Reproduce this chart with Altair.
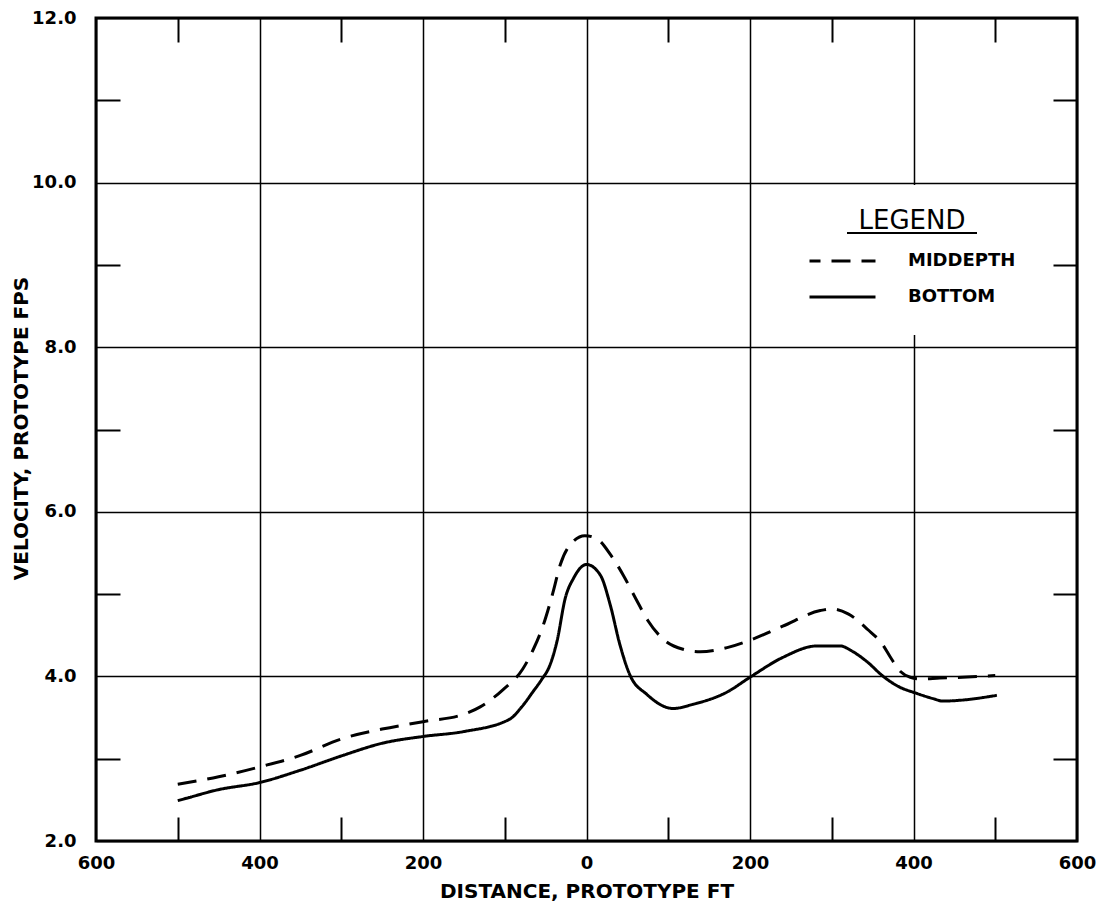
import altair as alt
import pandas as pd

FONT = "DejaVu Sans"

series_names = ["MIDDEPTH", "BOTTOM"]

# distance (prototype ft, negative = left of 0) and velocity (fps)
mid_dist = [-500, -450, -400, -350, -300, -250, -200, -150, -130, -102, -78, -65,
            -53, -41, -32, -20, -2, 13, 30, 45, 60, 75, 93, 118, 139, 172, 200,
            240, 286, 300, 320, 344, 362, 372, 384, 396, 408, 432, 460, 500]
mid_vel = [2.69, 2.78, 2.90, 3.04, 3.24, 3.36, 3.45, 3.54, 3.63, 3.84, 4.09, 4.33,
           4.62, 5.02, 5.36, 5.60, 5.71, 5.67, 5.47, 5.23, 4.95, 4.68, 4.46, 4.33,
           4.30, 4.35, 4.44, 4.61, 4.80, 4.82, 4.76, 4.57, 4.39, 4.23, 4.06, 3.99,
           3.97, 3.98, 3.99, 4.01]

bot_dist = [-500, -489, -452, -400, -350, -298, -249, -200, -150, -94, -80, -65,
            -55, -45, -36, -26, -16, 0, 17, 29, 41, 53, 74, 106, 130, 172, 200, 240,
            282, 310, 326, 343, 363, 383, 402, 424, 436, 457, 502]
bot_vel = [2.49, 2.52, 2.62, 2.71, 2.86, 3.04, 3.19, 3.27, 3.33, 3.48, 3.62, 3.82,
           3.96, 4.13, 4.43, 4.95, 5.19, 5.36, 5.23, 4.87, 4.38, 4.02, 3.78, 3.61,
           3.66, 3.81, 3.99, 4.23, 4.37, 4.37, 4.30, 4.18, 4.00, 3.87, 3.80, 3.73,
           3.70, 3.71, 3.77]

x_major = [-600, -400, -200, 0, 200, 400, 600]
x_minor = [-500, -300, -100, 100, 300, 500]
y_major = [2, 4, 6, 8, 10, 12]
y_minor = [3, 5, 7, 9, 11]

df = pd.concat([
    pd.DataFrame({"dist": mid_dist, "vel": mid_vel, "series": series_names[0]}),
    pd.DataFrame({"dist": bot_dist, "vel": bot_vel, "series": series_names[1]}),
], ignore_index=True)

W, H = 981, 823
xscale = alt.Scale(domain=[-600, 600], nice=False, zero=False)
yscale = alt.Scale(domain=[2, 12], nice=False, zero=False)

x_axis = alt.Axis(
    values=x_major, labelExpr="'' + abs(datum.value)", grid=True, ticks=False,
    tickSize=0, domain=False, labelFont=FONT, labelFontSize=18,
    labelFontWeight="bold", labelPadding=13, labelFlush=False, labelOverlap=False,
    title="DISTANCE, PROTOTYPE FT", titleFont=FONT, titleFontSize=20,
    titleFontWeight="bold", titleX=W / 2, titleY=50, titleBaseline="middle",
    titleAlign="center",
)
y_axis = alt.Axis(
    values=y_major, format=".1f", grid=True, ticks=False, tickSize=0,
    domain=False, labelFont=FONT, labelFontSize=18, labelFontWeight="bold",
    labelPadding=20, labelFlush=False, labelOverlap=False,
    title="VELOCITY, PROTOTYPE FPS", titleFont=FONT, titleFontSize=20,
    titleFontWeight="bold", titleX=-75, titleY=410, titleAngle=270,
    titleBaseline="middle", titleAlign="center",
)


def tick_axis(orient, values):
    return alt.Axis(orient=orient, values=values, offset=-24, tickSize=24,
                    ticks=True, tickWidth=2, tickColor="black", labels=False,
                    grid=False, domain=False, title=None)


lines = alt.Chart(df).mark_line(color="black", strokeWidth=3, interpolate="monotone").encode(
    x=alt.X("dist:Q", scale=xscale, axis=x_axis),
    y=alt.Y("vel:Q", scale=yscale, axis=y_axis),
    strokeDash=alt.StrokeDash(
        "series:N",
        sort=series_names,
        scale=alt.Scale(domain=series_names, range=[[19, 11], [1, 0]]),
        legend=alt.Legend(
            orient="none", legendX=689, legendY=167, title="LEGEND",
            titleFont=FONT, titleFontSize=26, titleFontWeight="normal",
            titleColor="black", titleAnchor="middle", titleAlign="center",
            titlePadding=12, padding=23, symbolSize=4356, symbolStrokeWidth=3,
            symbolStrokeColor="black", symbolType="stroke", symbolOffset=0,
            symbolDashOffset=8,
            labelFont=FONT, labelFontSize=18, labelFontWeight="bold",
            labelColor="black", labelOffset=31, clipHeight=30, rowPadding=6,
        ),
    ),
)

legend_bg = alt.Chart(df).mark_rect(color="white").encode(
    x=alt.value(689), x2=alt.value(944), y=alt.value(167), y2=alt.value(317)
)
underline = alt.Chart(df).mark_rule(color="black", strokeWidth=2).encode(
    x=alt.value(751), x2=alt.value(881), y=alt.value(215)
)

ticks_bl = alt.Chart(df).mark_point(opacity=0).encode(
    x=alt.X("dist:Q", scale=xscale, axis=tick_axis("bottom", x_minor)),
    y=alt.Y("vel:Q", scale=yscale, axis=tick_axis("left", y_minor)),
)
ticks_tr = alt.Chart(df).mark_point(opacity=0).encode(
    x=alt.X("dist:Q", scale=xscale, axis=tick_axis("top", x_minor)),
    y=alt.Y("vel:Q", scale=yscale, axis=tick_axis("right", y_minor)),
)

chart = alt.layer(lines, legend_bg, underline, ticks_bl, ticks_tr).resolve_axis(
    x="independent", y="independent"
).properties(
    width=W, height=H,
    autosize=alt.AutoSizeParams(type="none"),
    padding={"left": 88, "top": 10, "right": 21, "bottom": 66},
).configure_view(
    stroke="black", strokeWidth=3
).configure_axis(
    gridColor="black", gridWidth=1.5, gridOpacity=1,
    labelColor="black", titleColor="black",
)

chart.save("out.html", embed_options={"renderer": "svg", "actions": False})
